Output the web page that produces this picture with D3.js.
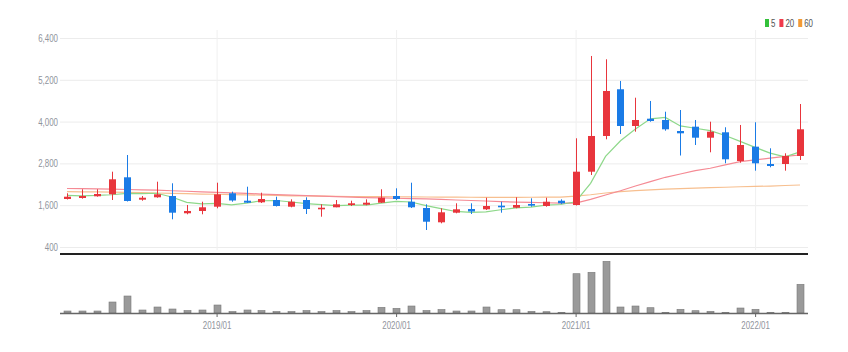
<!DOCTYPE html>
<html>
<head>
<meta charset="utf-8">
<script src="https://cdn.jsdelivr.net/npm/d3@7"></script>
<style>
  body { margin: 0; background: #fff; }
  text { font-family: "Liberation Sans", "DejaVu Sans", sans-serif; }
</style>
</head>
<body>
<div id="root"></div>
<script>
// months 2018/03 .. 2022/04
var months = ['2018/03','2018/04','2018/05','2018/06','2018/07','2018/08','2018/09','2018/10','2018/11','2018/12',
  '2019/01','2019/02','2019/03','2019/04','2019/05','2019/06','2019/07','2019/08','2019/09','2019/10','2019/11','2019/12',
  '2020/01','2020/02','2020/03','2020/04','2020/05','2020/06','2020/07','2020/08','2020/09','2020/10','2020/11','2020/12',
  '2021/01','2021/02','2021/03','2021/04','2021/05','2021/06','2021/07','2021/08','2021/09','2021/10','2021/11','2021/12',
  '2022/01','2022/02','2022/03','2022/04']
var openP = [1778,1807,1856,1913,2401,1758,1827,1864,1368,1434,1557,1942,1729,1683,1749,1557,1749,1482,1540,1606,1614,1672,1864,1700,1520,1109,1385,1491,1482,1586,1528,1635,1577,1729,1606,2562,3587,4928,3874,4083,4046,3730,3854,3538,3693,2869,3280,2783,2783,3013]
var highP = [1942,2057,2057,2562,3041,1864,2275,2229,1606,1700,2246,1988,2131,1959,1844,1769,1827,1626,1749,1729,1769,2057,2085,2246,1626,1511,1655,1655,1815,1700,1827,1798,1815,1769,3521,5884,5789,5166,4686,4592,4284,4333,4046,3997,3837,3903,3981,3234,3090,4505]
var lowP = [1764,1787,1844,1749,1706,1729,1815,1195,1339,1339,1511,1700,1663,1663,1563,1540,1347,1270,1540,1577,1597,1663,1749,1520,888,1080,1368,1347,1462,1385,1511,1557,1557,1635,1591,2467,3492,3644,3710,3997,3739,3026,3328,3119,2803,2820,2591,2688,2591,2898]
var closeP = [1844,1864,1922,2344,1721,1815,1913,1385,1434,1540,1913,1735,1672,1778,1577,1700,1491,1528,1626,1655,1672,1815,1778,1540,1126,1396,1482,1419,1577,1540,1606,1586,1700,1655,2562,3587,4879,3874,4046,4017,3779,3664,3538,3710,2918,3328,2803,2725,3013,3779]
var volume = [200,200,200,1100,1700,300,600,400,250,300,800,150,300,250,150,150,250,150,250,150,250,570,470,700,250,350,200,200,600,330,330,170,130,70,3930,4070,5170,600,700,530,70,370,230,170,70,500,370,70,70,2870]
var ma5 = [1880,1870,1880,1900,1939,1933,1943,1836,1680,1640,1650,1610,1660,1728,1735,1692,1644,1615,1590,1600,1600,1659,1709,1692,1586,1500,1420,1393,1410,1470,1525,1546,1602,1620,1700,2229,3000,3450,3790,4081,4119,3876,3809,3742,3600,3432,3259,3097,2990,3130]
var ma20 = [2080,2075,2070,2060,2050,2040,2030,2015,2000,1985,1970,1955,1940,1920,1905,1890,1875,1860,1845,1830,1820,1810,1800,1790,1780,1765,1750,1735,1720,1705,1690,1680,1670,1660,1660,1769,1893,2016,2151,2275,2401,2496,2591,2660,2760,2849,2900,2950,3000,3041]
var ma60 = [1990,1985,1980,1975,1970,1960,1950,1940,1930,1920,1915,1905,1895,1890,1880,1870,1865,1860,1855,1850,1848,1845,1843,1840,1835,1832,1830,1828,1826,1825,1826,1828,1830,1833,1860,1900,1950,1990,2020,2040,2060,2075,2090,2105,2115,2130,2140,2150,2165,2180]
var priceTicks = [400, 1600, 2800, 4000, 5200, 6400]
var legendItems = [{ name: '5', color: '#33c13a' }, { name: '20', color: '#f0394a' }, { name: '60', color: '#f29a35' }]

var width = 848, height = 352
var upColor = '#e8353c', downColor = '#1a7be6'
var narrow = 'scale(0.72,1)'
var svg = d3.select('#root').append('svg')
    .attr('width', width)
    .attr('height', height)

var X = d3.scalePoint().domain(months).range([67, 800])
var Y = d3.scaleLinear().domain([400, 6400]).range([247, 38])
var V = d3.scaleLinear().domain([0, 5700]).range([313, 256])
var bw = 7

// grid
var grid = svg.append('g')
grid.selectAll('line.h').data(priceTicks).enter().append('line')
    .attr('x1', 60).attr('x2', 808)
    .attr('y1', function (d) { return Y(d) + 0.5 })
    .attr('y2', function (d) { return Y(d) + 0.5 })
    .attr('stroke', '#ececec')
var yearTicks = months.filter(function (m) { return m.slice(5) === '01' })
grid.selectAll('line.v').data(yearTicks).enter().append('line')
    .attr('x1', function (d) { return X(d) + 0.5 })
    .attr('x2', function (d) { return X(d) + 0.5 })
    .attr('y1', 30).attr('y2', 250)
    .attr('stroke', '#f0f0f0')

// y axis labels
var yAxis = svg.append('g').attr('transform', 'translate(58,0)')
    .call(d3.axisLeft(Y).tickValues(priceTicks).tickSize(0).tickPadding(0).tickFormat(d3.format(',')))
yAxis.select('.domain').remove()
yAxis.selectAll('text').attr('fill', '#8f949c').style('font-size', '11px')
    .attr('transform', narrow)
    .style('font-family', '"Liberation Sans", "DejaVu Sans", sans-serif')

// moving averages
var line = d3.line().x(function (d, i) { return X(months[i]) }).y(function (d) { return Y(d) })
var maSeries = [{ v: ma60, c: '#f7bf8f' }, { v: ma20, c: '#f58a94' }, { v: ma5, c: '#8ed88a' }]
svg.append('g').selectAll('path').data(maSeries).enter().append('path')
    .attr('d', function (d) { return line(d.v) })
    .attr('fill', 'none')
    .attr('stroke', function (d) { return d.c })
    .attr('stroke-width', 1.2)

// candles
var candles = svg.append('g').selectAll('g').data(months).enter().append('g')
function col(i) { return closeP[i] >= openP[i] ? upColor : downColor }
candles.append('line')
    .attr('x1', function (d) { return Math.round(X(d)) + 0.5 })
    .attr('x2', function (d) { return Math.round(X(d)) + 0.5 })
    .attr('y1', function (d, i) { return Y(highP[i]) })
    .attr('y2', function (d, i) { return Y(lowP[i]) })
    .attr('stroke', function (d, i) { return col(i) })
candles.append('rect')
    .attr('x', function (d) { return Math.round(X(d)) - 3 })
    .attr('width', bw)
    .attr('y', function (d, i) { return Y(Math.max(openP[i], closeP[i])) })
    .attr('height', function (d, i) { return Math.max(1.5, Math.abs(Y(openP[i]) - Y(closeP[i]))) })
    .attr('fill', function (d, i) { return col(i) })

// separator
svg.append('line').attr('x1', 60).attr('x2', 808).attr('y1', 254).attr('y2', 254)
    .attr('stroke', '#222').attr('stroke-width', 2)

// volume
svg.append('g').selectAll('rect').data(volume).enter().append('rect')
    .attr('x', function (d, i) { return Math.round(X(months[i])) - 3 })
    .attr('width', bw)
    .attr('y', function (d) { return V(d) })
    .attr('height', function (d) { return V(0) - V(d) })
    .attr('fill', '#9a9a9a')
    .attr('stroke', '#7a7a7a')
    .attr('stroke-width', 0.6)

var xAxis = svg.append('g').attr('transform', 'translate(0,313)')
    .call(d3.axisBottom(X).tickValues(yearTicks).tickSize(4).tickPadding(4))
xAxis.select('.domain').attr('d', 'M60,0.5H808').attr('stroke', '#666').attr('stroke-width', 1.5)
xAxis.selectAll('.tick line').attr('stroke', '#666')
xAxis.selectAll('text').attr('fill', '#8f949c').style('font-size', '11px')
    .attr('transform', narrow)
    .style('font-family', '"Liberation Sans", "DejaVu Sans", sans-serif')

// legend
var lg = svg.append('g').attr('transform', 'translate(765,23)')
var lx = 0
legendItems.forEach(function (d) {
    lg.append('rect').attr('x', lx).attr('y', -4).attr('width', 4).attr('height', 8).attr('fill', d.color)
    var t = lg.append('text').attr('x', (lx + 6) / 0.72).attr('y', 3.5).text(d.name)
        .attr('transform', narrow)
        .attr('fill', '#555').style('font-size', '11px')
    lx += 6 + t.node().getComputedTextLength() * 0.72 + 4
})
</script>
</body>
</html>
